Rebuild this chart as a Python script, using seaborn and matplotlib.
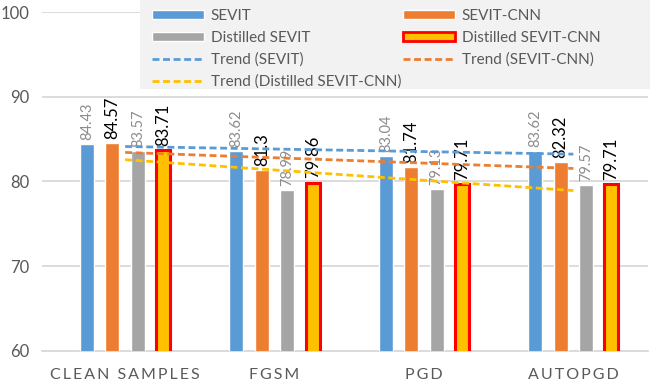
import numpy as np
import pandas as pd
import matplotlib.pyplot as plt
import seaborn as sns
from matplotlib.patches import Patch, Rectangle
from matplotlib.lines import Line2D

# Data
attacks = ["CLEAN SAMPLES", "FGSM", "PGD", "AUTOPGD"]
models = ["SEVIT", "SEVIT-CNN", "Distilled SEVIT", "Distilled SEVIT-CNN"]
sevit = [84.43, 83.62, 83.04, 83.62]
sevit_cnn = [84.57, 81.3, 81.74, 82.32]
distilled_sevit = [83.57, 78.99, 79.13, 79.57]
distilled_sevit_cnn = [83.71, 79.86, 79.71, 79.71]

colors = ["#5b9bd5", "#ed7d31", "#a5a5a5", "#ffc000"]
series = [sevit, sevit_cnn, distilled_sevit, distilled_sevit_cnn]

df = pd.DataFrame({
    "attack": attacks * 4,
    "model": np.repeat(models, 4),
    "acc": np.concatenate(series),
})

sns.set_style("white")
plt.rcParams['font.family'] = ['Lato', 'DejaVu Sans']

fig, ax = plt.subplots(figsize=(6.5, 3.89), dpi=100)
fig.subplots_adjust(left=0.065, right=0.997, bottom=0.098, top=0.969)

sns.barplot(data=df, x="attack", y="acc", hue="model", palette=colors,
            width=0.68, gap=0.45, saturation=1, legend=False, ax=ax, zorder=3)

# red outline on the distilled SEVIT-CNN bars
for bar in ax.containers[3]:
    bar.set_edgecolor("#ff0000")
    bar.set_linewidth(2.2)

# value labels
for i, c in enumerate(ax.containers):
    labels = [str(v) for v in series[i]]
    if i in (1, 3):
        ax.bar_label(c, labels=labels, rotation=90, padding=3, fontsize=12, color="black")
    else:
        ax.bar_label(c, labels=labels, rotation=90, padding=3, fontsize=10.5, color="#8c8c8c")

# linear trend lines
x = np.arange(len(attacks))
dash = (0, (2.5, 1.3))
trends = [(sevit, colors[0]), (sevit_cnn, colors[1]), (distilled_sevit_cnn, colors[3])]
for vals, col in trends:
    p = np.polyfit(x, vals, 1)
    ax.plot(x, np.polyval(p, x), color=col, lw=2, ls=dash, zorder=5)

ax.set_ylim(60, 100)
ax.set_yticks(range(60, 101, 10))
ax.set_xlim(-0.555, 3.5)
ax.set_xlabel("")
ax.set_ylabel("")

def spaced(s):
    # widen the letter spacing like the original axis labels
    return "\u200a\u200a".join(s)

ax.set_xticks(x)
ax.set_xticklabels([spaced(a) for a in attacks])
ax.grid(axis="y", color="#d9d9d9", lw=1.3, zorder=0)
ax.set_axisbelow(True)
for side in ["top", "right", "left"]:
    ax.spines[side].set_visible(False)
ax.spines["bottom"].set_color("#d9d9d9")
ax.spines["bottom"].set_linewidth(1.3)
ax.tick_params(axis="both", length=0, labelcolor="#595959")
ax.tick_params(axis="x", pad=12, labelsize=11.5)
ax.tick_params(axis="y", pad=9, labelsize=12)

# legend background box
fig.patches.append(Rectangle((140 / 650, 1 - 89 / 389), 510 / 650, 89 / 389,
                             transform=fig.transFigure, facecolor="#f2f2f2",
                             edgecolor="none", zorder=1))

# legend, column-major order to match the row layout
h = {
    "SEVIT": Patch(facecolor=colors[0]),
    "SEVIT-CNN": Patch(facecolor=colors[1]),
    "Distilled SEVIT": Patch(facecolor=colors[2]),
    "Distilled SEVIT-CNN": Patch(facecolor=colors[3], edgecolor="#ff0000", lw=2),
    "Trend (SEVIT)": Line2D([], [], color=colors[0], lw=2, ls=dash),
    "Trend (SEVIT-CNN)": Line2D([], [], color=colors[1], lw=2, ls=dash),
    "Trend (Distilled SEVIT-CNN)": Line2D([], [], color=colors[3], lw=2, ls=dash),
}
order = ["SEVIT", "Distilled SEVIT", "Trend (SEVIT)", "Trend (Distilled SEVIT-CNN)",
         "SEVIT-CNN", "Distilled SEVIT-CNN", "Trend (SEVIT-CNN)"]
leg = fig.legend([h[k] for k in order], order, ncol=2, loc="upper left",
                 bbox_to_anchor=(152 / 650, 1 - 9 / 389), borderaxespad=0, borderpad=0,
                 fontsize=11, labelcolor="#595959",
                 handlelength=3.4, handleheight=0.55, handletextpad=0.45,
                 columnspacing=0.1, labelspacing=0.5, frameon=False)
leg.set_zorder(6)

fig.savefig("out.png", dpi=100)
